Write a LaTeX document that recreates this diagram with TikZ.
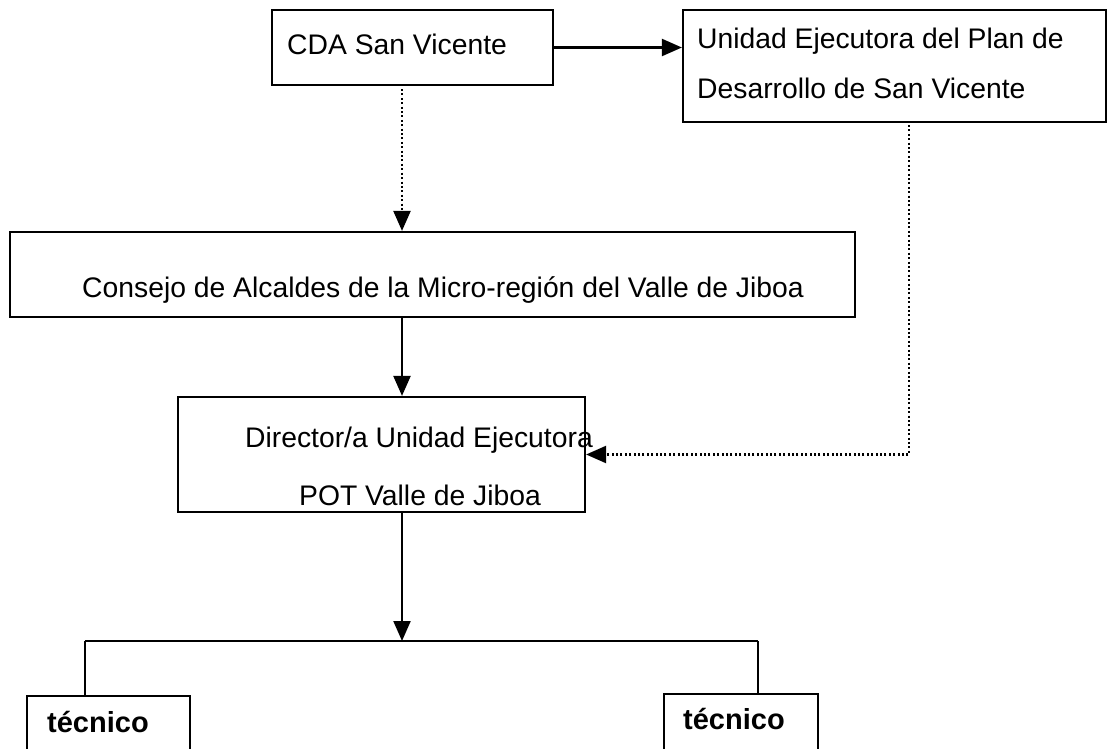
\documentclass[tikz,border=0pt]{standalone}
\usepackage{fontspec}
\setmainfont{Liberation Sans}
\usetikzlibrary{arrows.meta}

\tikzstyle{box}=[rectangle, draw=black, line width=2.2pt, inner sep=0pt]
\tikzstyle{label}=[inner sep=0pt, font=\fontsize{28.3}{32}\selectfont]
\tikzstyle{tec}=[inner sep=0pt, font=\fontsize{29}{32}\selectfont\bfseries]
\tikzstyle{arrow}=[line width=2.2pt, -{Triangle[length=20pt,width=17pt]}]
\tikzstyle{dotarrow}=[line width=2.2pt, dash pattern=on 2pt off 2.4pt, -{Triangle[length=20pt,width=17pt,sep=0pt]}]
\tikzstyle{line}=[line width=2.2pt]

\begin{document}
\begin{tikzpicture}[x=1pt, y=-1pt]

\clip (0,0) rectangle (1108,749);

% boxes
\node(cda)[box, minimum width=281pt, minimum height=75pt] at (412.5,47.5){};
\node(uni)[box, minimum width=423pt, minimum height=112pt] at (894.5,66){};
\node(con)[box, minimum width=845pt, minimum height=85pt] at (432.5,274.5){};
\node(dir)[box, minimum width=407pt, minimum height=115pt] at (381.5,454.5){};
\node(t1)[box, minimum width=163pt, minimum height=66pt] at (108.5,729){};
\node(t2)[box, minimum width=154pt, minimum height=68pt] at (741,728){};

% texts
\node(cdatxt)[label, anchor=west] at (287,44){CDA San Vicente};
\node(unitxt1)[label, anchor=west] at (697,41){Unidad Ejecutora del Plan de};
\node(unitxt2)[label, anchor=west] at (697,88){Desarrollo de San Vicente};
\node(contxt)[label] at (443,290){Consejo de Alcaldes de la Micro-regi\'on del Valle de Jiboa};
\node(dirtxt1)[label] at (419,440){Director/a Unidad Ejecutora};
\node(dirtxt2)[label] at (420,495){POT Valle de Jiboa};
\node(t1txt)[tec, anchor=west] at (47,722){t\'ecnico};
\node(t2txt)[tec, anchor=west] at (683,719){t\'ecnico};

% helper points
\coordinate(spine) at (402,0);
\coordinate(ret) at (909,0);
\coordinate(bus) at (402,641);
\coordinate(b1) at (85,641);
\coordinate(b2) at (758,641);

% connectors
\draw[arrow](cda.east)--(cda.east -| uni.west);
\draw[dotarrow]([yshift=-3pt]cda.south -| spine)--(con.north -| spine);
\draw[dotarrow]([yshift=-2pt]uni.south -| ret) |- (dir.east);
\draw[arrow](con.south -| spine)--(dir.north -| spine);
\draw[arrow](dir.south -| spine)--(bus);
\draw[line](b1)--(b2);
\draw[line](b1)--(b1 |- t1.north);
\draw[line](b2)--(b2 |- t2.north);

\end{tikzpicture}
\end{document}
